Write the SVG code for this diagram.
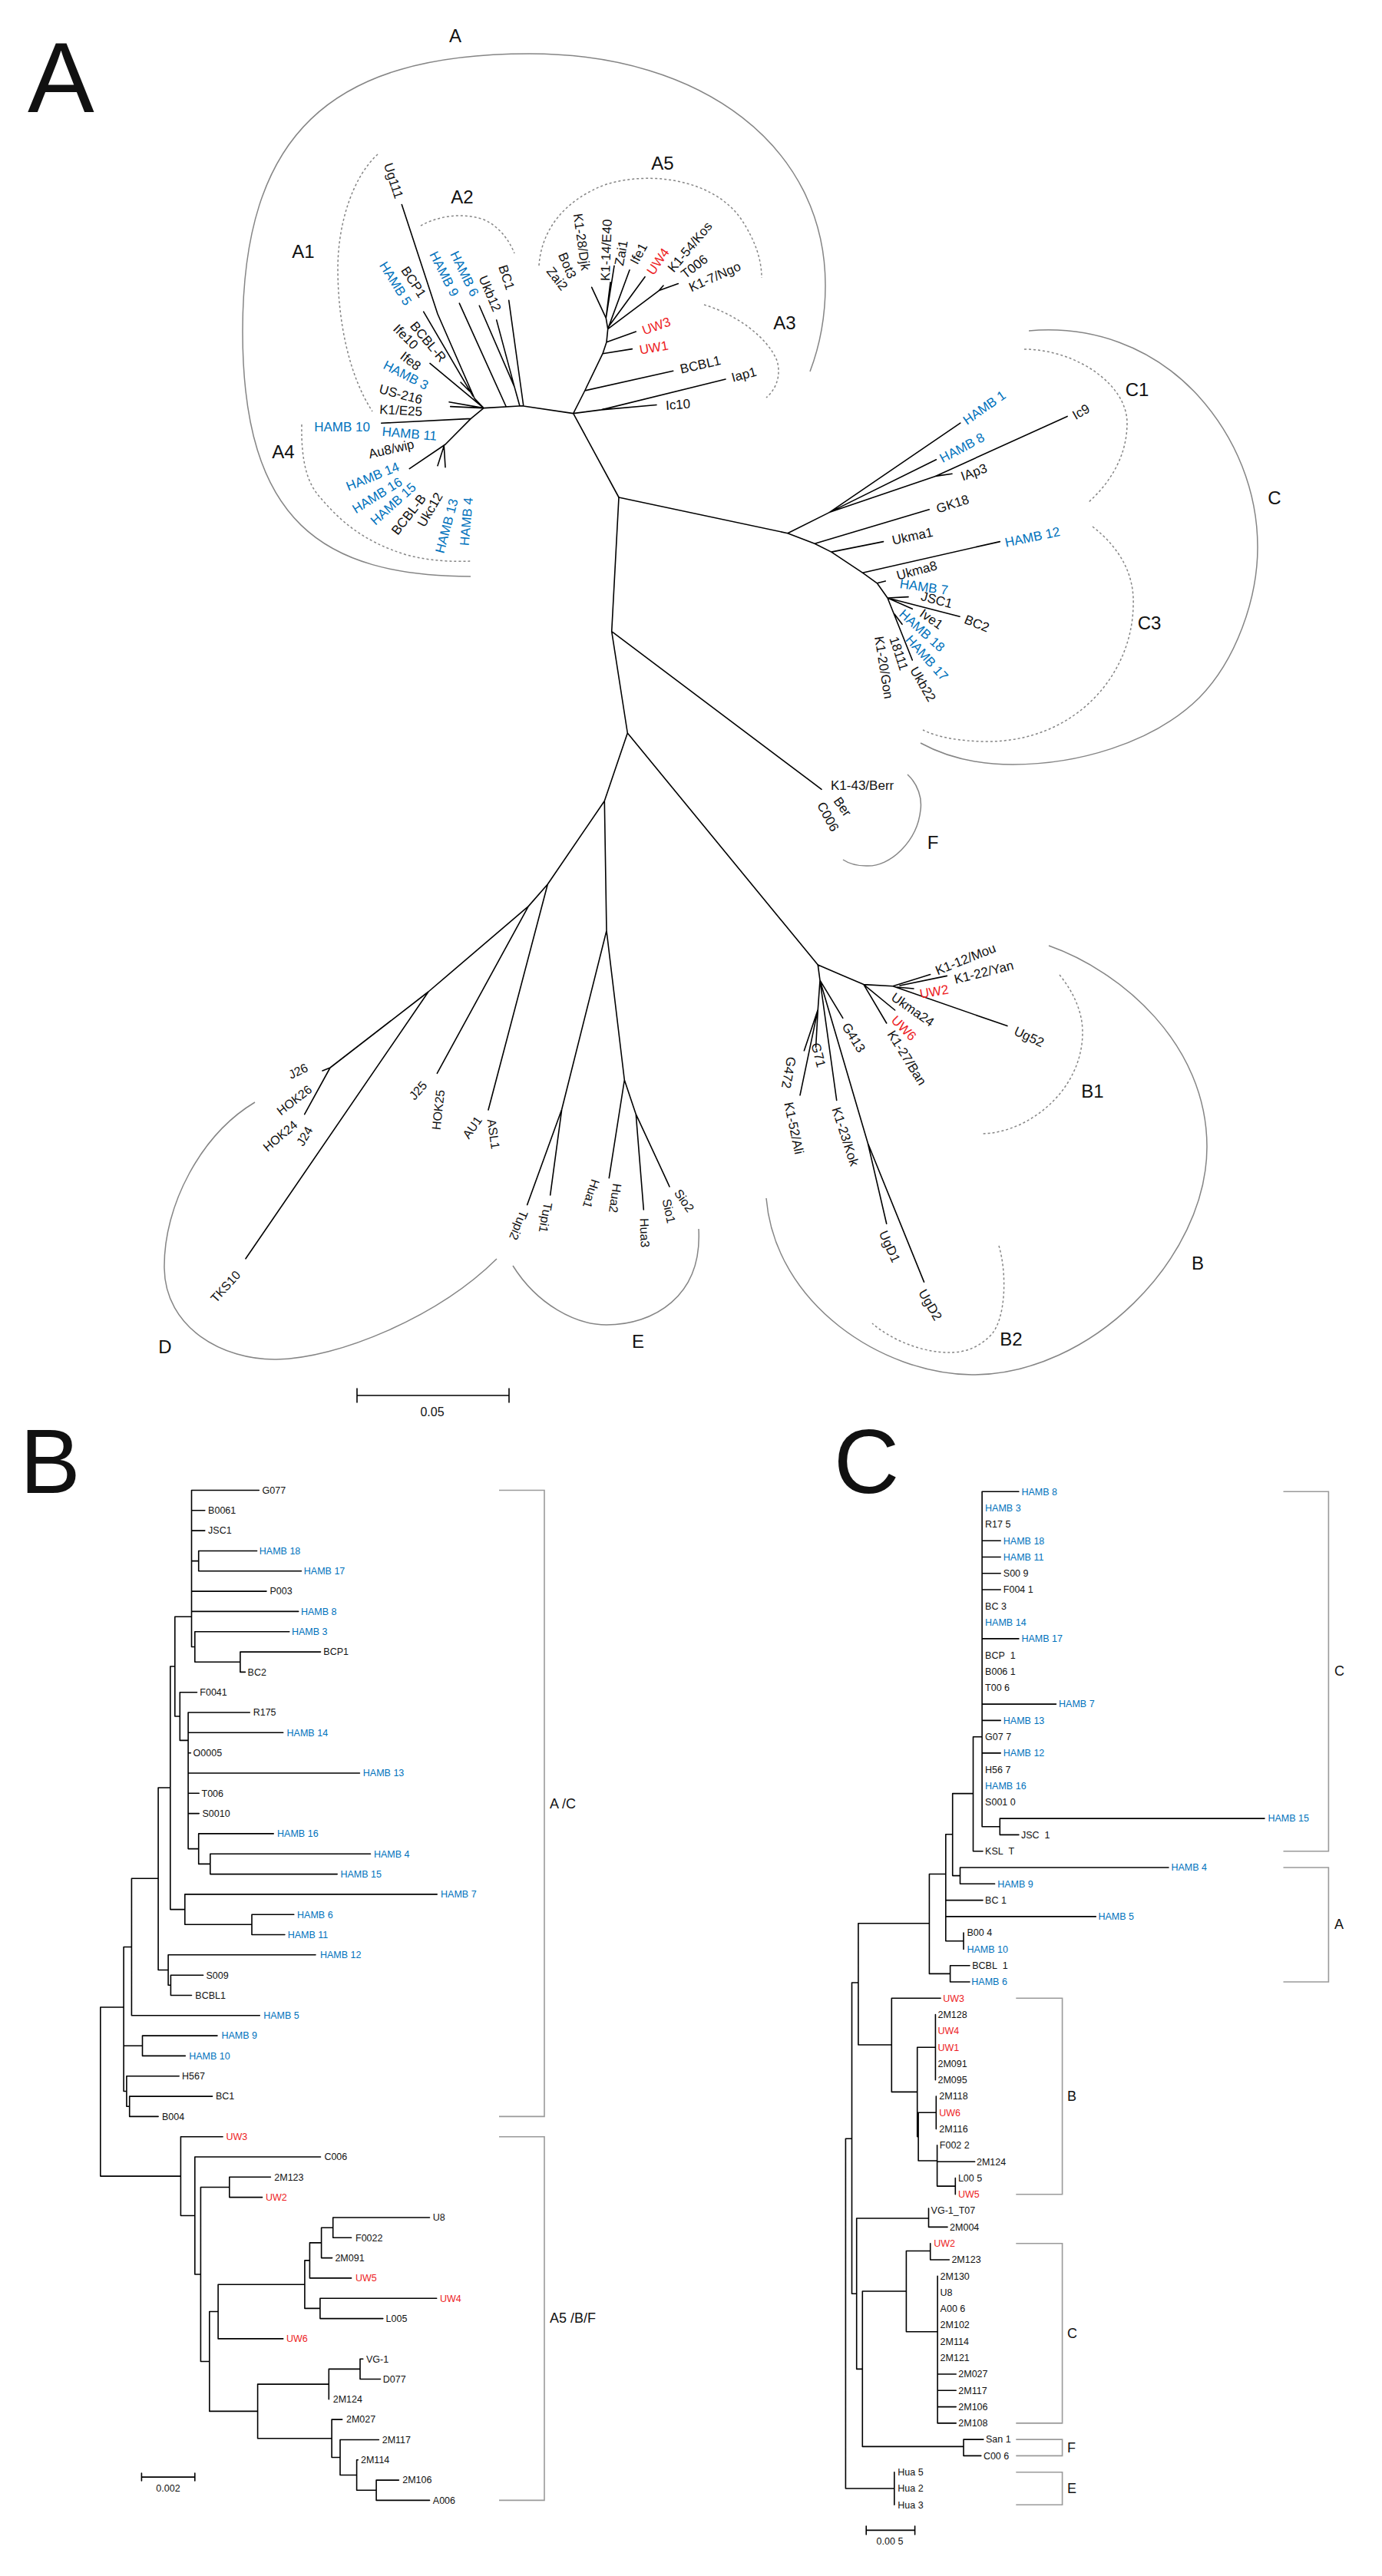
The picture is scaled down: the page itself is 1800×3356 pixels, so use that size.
<svg xmlns="http://www.w3.org/2000/svg" width="1800" height="3356" viewBox="0 0 1800 3356">
<style>
text{font-family:"Liberation Sans",Arial,sans-serif;fill:#111}
.ln{fill:none;stroke:#000;stroke-width:1.6;stroke-linejoin:round;stroke-linecap:round}
.arc{fill:none;stroke:#858585;stroke-width:1.5}
.dash{fill:none;stroke:#858585;stroke-width:1.5;stroke-dasharray:3 3}
.brk{fill:none;stroke:#9a9a9a;stroke-width:1.6}
.la{font-size:17px}
.ld{font-size:16px}
.lb{font-size:12.5px}
.cl{font-size:24px;text-anchor:middle}
.bk{font-size:18px}
.pl{font-size:130px}
.b{fill:#0072bc}
.r{fill:#ed1c24}
.e{text-anchor:end}
.m{text-anchor:middle}
</style>
<rect width="1800" height="3356" fill="#fff"/>

<!-- panel letters -->
<g id="panel-labels">
<text class="pl" x="36" y="146">A</text>
<text class="pl" x="26" y="1945" style="font-size:118px">B</text>
<text class="pl" x="1086" y="1945" style="font-size:118px">C</text>
</g>

<!-- ============ PANEL A ============ -->
<g id="clade-arcs">
<path class="arc" d="M613,751 C420,750 316,680 316,432 C316,177 428,70 690,70 C915,70 1075,191 1075,372 C1075,420 1066,455 1055,484"/>
<path class="dash" d="M492,201 C460,230 440,290 440,350 C440,420 455,490 485,536"/>
<path class="dash" d="M548,294 C570,282 600,276 630,286 C648,294 662,310 670,330"/>
<path class="dash" d="M393,553 C392,600 400,630 417,648 C440,675 470,705 530,723 C560,731 590,732 613,731"/>
<path class="dash" d="M702,346 C705,300 735,260 790,240 C850,222 930,235 965,285 C985,315 992,340 992,362"/>
<path class="dash" d="M917,397 C960,410 1000,440 1012,470 C1018,490 1010,508 998,518"/>
<path class="arc" d="M1340,431 C1420,424 1500,450 1560,515 C1610,570 1638,640 1638,713 C1638,780 1610,860 1562,909 C1500,970 1400,996 1319,996 C1270,996 1230,985 1199,968"/>
<path class="dash" d="M1334,455 C1400,455 1468,500 1468,551 C1468,595 1445,630 1417,655"/>
<path class="dash" d="M1423,686 C1460,715 1478,750 1476,790 C1474,880 1400,966 1286,966 C1250,966 1220,960 1202,951"/>
<path class="arc" d="M1182,1009 C1196,1022 1201,1040 1199,1055 C1195,1095 1160,1130 1128,1128 C1115,1128 1104,1124 1098,1120"/>
<path class="arc" d="M1366,1232 C1460,1265 1572,1360 1572,1494 C1572,1640 1420,1792 1266,1791 C1150,1790 1010,1700 998,1561"/>
<path class="dash" d="M1380,1270 C1400,1295 1410,1320 1410,1345 C1410,1420 1340,1476 1279,1477"/>
<path class="dash" d="M1301,1623 C1312,1660 1310,1720 1290,1740 C1270,1760 1250,1762 1236,1762 C1200,1762 1160,1745 1136,1724"/>
<path class="arc" d="M332,1436 C262,1478 213,1570 214,1652 C215,1730 290,1772 360,1771 C440,1770 570,1716 647,1640"/>
<path class="arc" d="M668,1649 C700,1700 750,1726 790,1726 C850,1726 915,1690 910,1601"/>
</g>

<g id="clade-labels">
<text class="cl" x="593" y="47" dy=".35em">A</text>
<text class="cl" x="395" y="328" dy=".35em">A1</text>
<text class="cl" x="602" y="257" dy=".35em">A2</text>
<text class="cl" x="1022" y="421" dy=".35em">A3</text>
<text class="cl" x="369" y="589" dy=".35em">A4</text>
<text class="cl" x="863" y="213" dy=".35em">A5</text>
<text class="cl" x="1481" y="508" dy=".35em">C1</text>
<text class="cl" x="1497" y="812" dy=".35em">C3</text>
<text class="cl" x="1660" y="649" dy=".35em">C</text>
<text class="cl" x="1560" y="1646" dy=".35em">B</text>
<text class="cl" x="1423" y="1422" dy=".35em">B1</text>
<text class="cl" x="1317" y="1745" dy=".35em">B2</text>
<text class="cl" x="215" y="1755" dy=".35em">D</text>
<text class="cl" x="831" y="1748" dy=".35em">E</text>
<text class="cl" x="1215" y="1098" dy=".35em">F</text>
</g>

<g id="connectors">
<path class="ln" d="M806,648 L746.7,538.6 M746.7,538.6 L680,528.8 L630,531.6
M630,531.6 L618,519 L570,409 L523.3,266.6 M616,516 L551.7,406.2 M611.7,509.8 L600,498
M630,531.6 L560,473.4 M630,531.6 L585,523.7 M630,531.6 L586.7,529.6
M630,531.6 L613.3,545.4 L496.7,551.3 M613.3,545.4 L580,579 L533.3,610.6 M578.3,581 L570,606.7 M578.3,581 L580,608.7
M659.3,530 L598.3,395.2 M676.7,528 L670,503.9 L624.3,398.3 M670,503.9 L646.7,416.9 M681.7,528 L662.7,391.2
M746.7,538.6 L761.7,509 L785,460.7 L790,445.7 L791.7,428.6 L789.3,414.3
M761.7,509 L876.7,483.2 M746.7,538.6 L783.3,533.9 L945,494 M783.3,533.9 L855,527.5
M785,460.7 L823.3,454.6 M790,445.7 L828.3,432
M791.7,428.6 L858.3,378.6 L883.3,369.6 M858.3,378.6 L864,372
M793,425 L840,360.7 M791.7,428.6 L820,351.8
M789.3,414.3 L800,346.4 M789.3,414.3 L795,367.9 M789.3,414.3 L770.7,374.3"/>
<path class="ln" d="M806,648 L1025.9,694.7 L1080.1,667.6 L1250.8,551.1 M1080.1,667.6 L1219.4,598.8
M1080.1,667.6 L1218.3,620.4 L1390.1,542.4 M1218.3,620.4 L1240,617.2
M1025.9,694.7 L1061.1,708.3 L1082.8,719.1 L1123.4,746.2 L1142.4,759.8 L1156,779
M1061.1,708.3 L1210.2,663.8 M1082.8,719.1 L1150.5,705.6 M1123.4,746.2 L1302.3,705.6 M1142.4,759.8 L1153.3,757
M1156,779 L1183,777.6 M1156,779 L1250,803.3 M1156,779 L1188.3,793.3 M1156,779 L1188.3,860 M1165,800 L1175,813.3"/>
<path class="ln" d="M806,648 L796.7,822.7 L1070,1028.3 M796.7,822.7 L817.3,955
M817.3,955 L787.3,1043.5 L790,1212.5 M817.3,955 L1065.3,1257.1
M787.3,1043.5 L713.3,1152 L636,1446 M713.3,1152 L688.3,1180.6 L569.3,1398.3
M688.3,1180.6 L558,1292 L430,1391 L420,1395 M430,1391 L396.7,1451.7 M558,1292 L320,1639.8
M790,1212.5 L731.7,1445.3 L686.7,1569.6 M731.7,1445.3 L716.7,1556.9
M790,1212.5 L813.3,1407 L793.3,1534.6 M813.3,1407 L828.3,1451.7 L838.3,1576 M828.3,1451.7 L868.3,1537.8 L872,1546"/>
<path class="ln" d="M1065.3,1257.1 L1124.9,1282.6 L1162.9,1284.8 L1311.9,1336.6 M1162.9,1284.8 L1211.6,1269.6 M1172,1284 L1233.3,1271.4 M1168,1286 L1190,1288
M1124.9,1282.6 L1165.6,1316 M1124.9,1282.6 L1154.7,1333
M1065.3,1257.1 L1068,1277.2 L1097.8,1326.3 M1068,1277.2 L1089.7,1433.5
M1068,1277.2 L1130.3,1489.3 L1154.7,1594.2 M1130.3,1489.3 L1203.5,1670.1
M1068,1277.2 L1065.3,1315.2 L1062.6,1364.3 M1065.3,1315.2 L1047.4,1368.8 M1065.3,1315.2 L1042,1426.8"/>
<path class="ln" d="M465,1818 H663 M465,1809 V1827 M663,1809 V1827"/>

<!-- panel B tree -->
<path class="ln" d="M249.5,1941.5 V2145.5 M249.5,1941.5 H337.3 M249.5,1967.8 H266.8 M249.5,1994.1 H266.8 M249.5,2073.1 H347 M249.5,2099.4 H388.7
M249.5,2033.6 H258.7 M258.7,2020.5 V2046.8 M258.7,2020.5 H334.6 M258.7,2046.8 H392.5
M249.5,2145.5 H253.8 M253.8,2125.7 V2165.3 M253.8,2125.7 H376.8 M253.8,2165.3 H312.9 M312.9,2152.1 V2178.4 M312.9,2152.1 H417.5 M312.9,2178.4 H319.4
M227.8,2106.2 H249.5
M245.1,2231 V2408.6 M245.1,2231 H325.3 M245.1,2257.3 H368.7 M245.1,2283.7 H248.4 M245.1,2310 H468.4 M245.1,2336.3 H259.2 M245.1,2362.6 H259.2
M245.1,2408.6 H258.7 M258.7,2388.9 V2428.4 M258.7,2388.9 H356.2 M258.7,2428.4 H273.8 M273.8,2415.2 V2441.6 M273.8,2415.2 H482.5 M273.8,2441.6 H439.2
M234.3,2267.4 H245.1 M234.3,2204.7 V2267.4 M234.3,2204.7 H256.5 M227.8,2236 H234.3
M227.8,2106.2 V2236 M221.8,2171 H227.8
M221.8,2487.6 H240.8 M240.8,2467.9 V2507.3 M240.8,2467.9 H569.2 M240.8,2507.3 H328 M328,2494.2 V2520.5 M328,2494.2 H382.8 M328,2520.5 H370.9
M221.8,2171 V2487.6 M206.1,2329 H221.8
M206.1,2566.5 H219.1 M219.1,2546.8 V2586.3 M219.1,2546.8 H411 M219.1,2586.3 H222.4 M222.4,2573.2 V2599.5 M222.4,2573.2 H264.6 M222.4,2599.5 H249.5
M206.1,2329 V2566.5 M171.4,2447.3 H206.1
M171.4,2447.3 V2625.8 M171.4,2625.8 H338.3 M161.1,2536.5 H171.4
M161.1,2665.3 H185.5 M185.5,2652.1 V2678.4 M185.5,2652.1 H283 M185.5,2678.4 H241.3
M161.1,2724.5 H164.9 M164.9,2704.7 V2744.2 M164.9,2704.7 H233.2 M164.9,2744.2 H168.7 M168.7,2731.1 V2757.4 M168.7,2731.1 H276.6 M168.7,2757.4 H206.1
M161.1,2536.5 V2724.5 M130.8,2615 H161.1
M130.8,2615 V2835.1 M130.8,2835.1 H235.4
M235.4,2783.7 V2886.5 M235.4,2783.7 H290.1 M235.4,2886.5 H253.8
M253.8,2810 V2963 M253.8,2810 H417.5 M253.8,2963 H261.4
M261.4,2849.5 V3076.5 M261.4,2849.5 H298.8 M298.8,2836.3 V2862.6 M298.8,2836.3 H352.4 M298.8,2862.6 H341.6 M261.4,3076.5 H272.8
M272.8,3011.5 V3141.4 M272.8,3011.5 H284.1 M272.8,3141.4 H335.6
M284.1,2976.2 V3046.9 M284.1,3046.9 H368.7 M284.1,2976.2 H396.9
M396.9,2944.9 V3007.4 M396.9,2944.9 H403.4 M396.9,3007.4 H416.9
M403.4,2921.9 V2967.9 M403.4,2967.9 H457.6 M403.4,2921.9 H418.6
M418.6,2902.2 V2941.6 M418.6,2941.6 H432.6 M418.6,2902.2 H433.7
M433.7,2889 V2915.3 M433.7,2889 H559.5 M433.7,2915.3 H457.6
M416.9,2994.2 V3020.6 M416.9,2994.2 H568.7 M416.9,3020.6 H498.8
M335.6,3106.1 V3176.8 M335.6,3106.1 H428.3 M335.6,3176.8 H432.1
M428.3,3086.4 V3125.8 M428.3,3086.4 H469 M469,3073.2 V3099.5 M469,3073.2 H472.8 M469,3099.5 H495.5
M432.1,3152.1 V3201.5 M432.1,3152.1 H445.7 M432.1,3201.5 H443
M443,3178.5 V3224.5 M443,3178.5 H493.4 M443,3224.5 H464.6
M464.6,3204.8 V3244.2 M464.6,3204.8 H466.3 M464.6,3244.2 H490.1
M490.1,3231.1 V3257.4 M490.1,3231.1 H519.4 M490.1,3257.4 H559.5"/>
<path class="ln" d="M184.4,3227.1 H253.8 M184.4,3222 V3232 M253.8,3222 V3232"/>

<!-- panel C tree -->
<path class="ln" d="M1279.1,1943.3 V2379.8 M1279.1,1943.3 H1326.9 M1279.1,2007.2 H1303.2 M1279.1,2028.5 H1303.2 M1279.1,2049.8 H1303.2 M1279.1,2071 H1303.2 M1279.1,2134.9 H1326.9 M1279.1,2220.1 H1375.5 M1279.1,2241.4 H1303.2 M1279.1,2283.9 H1303.2
M1279.1,2379.8 H1302.3 M1302.3,2369.1 V2390.4 M1302.3,2369.1 H1647 M1302.3,2390.4 H1326.9
M1267.5,2262.7 H1279.1 M1267.5,2262.7 V2411.7 M1267.5,2411.7 H1280
M1240.7,2336.6 H1267.5 M1240.7,2336.6 V2443.6 M1240.7,2443.6 H1250.5 M1250.5,2433 V2454.3 M1250.5,2433 H1522 M1250.5,2454.3 H1295.6
M1231.8,2389.7 H1240.7 M1231.8,2389.7 V2528.8 M1231.8,2475.6 H1280 M1231.8,2496.9 H1427.3 M1231.8,2528.8 H1255 M1255,2518.1 V2539.4
M1210.4,2441.5 H1231.8 M1210.4,2441.5 V2571.4 M1210.4,2571.4 H1237.6 M1237.6,2560.7 V2582 M1237.6,2560.7 H1263 M1237.6,2582 H1263
M1117.9,2505.8 H1210.4 M1117.9,2505.8 V2664 M1117.9,2664 H1161.3
M1161.3,2603.3 V2725.4 M1161.3,2603.3 H1225.1 M1161.3,2725.4 H1194.7
M1194.7,2667.2 V2783.6 M1194.7,2667.2 H1218.4 M1218.4,2624.6 V2709.8 M1194.7,2783.6 H1196.1
M1196.1,2752.3 V2815 M1196.1,2752.3 H1219.3 M1219.3,2731 V2773.6 M1196.1,2815 H1220.6
M1220.6,2794.9 V2848.1 M1220.6,2816.2 H1269.7 M1220.6,2848.1 H1244.3 M1244.3,2837.5 V2858.8
M1109.5,2583 H1117.9 M1109.5,2583 V2988.2 M1101.4,2786.2 H1109.5
M1109.5,2988.2 H1115.7 M1115.7,2890 V3086.4 M1115.7,2890 H1209.5 M1209.5,2877 V2901.4 M1209.5,2901.4 H1234
M1115.7,3086.4 H1123.3 M1123.3,2985 V3187.4 M1123.3,2985 H1180.4 M1180.4,2932.5 V3037.8 M1180.4,2932.5 H1211.7 M1211.7,2922.7 V2944 M1211.7,2944 H1236.3
M1180.4,3037.8 H1221.1 M1221.1,2965.2 V3156.9 M1221.1,3093 H1245.2 M1221.1,3114.3 H1245.2 M1221.1,3135.6 H1245.2 M1221.1,3156.9 H1245.2
M1123.3,3187.4 H1255 M1255,3178.1 V3199.4 M1255,3178.1 H1280.9 M1255,3199.4 H1277.8
M1101.4,2786.2 V3242 M1101.4,3242 H1164.8 M1164.8,3220.7 V3263.3"/>
<path class="ln" d="M1128.2,3296.4 H1191.6 M1128.2,3291 V3302 M1191.6,3291 V3302"/>
</g>

<g id="brackets">
<path class="brk" d="M650,1941.5 H709 V2757.4 H650 M650,2783.7 H709 V3257.4 H650"/>
<path class="brk" d="M1671.5,1943.3 H1730.4 V2411.7 H1671.5 M1671.5,2433 H1730.4 V2582 H1671.5"/>
<path class="brk" d="M1323.3,2603.3 H1383.6 V2858.8 H1323.3 M1323.3,2922.7 H1383.6 V3156.9 H1323.3 M1323.3,3178.1 H1383.6 V3199.4 H1323.3 M1323.3,3220.7 H1383.6 V3263.3 H1323.3"/>
<text class="bk" x="716" y="2350" dy=".35em">A /C</text>
<text class="bk" x="716" y="3020" dy=".35em">A5 /B/F</text>
<text class="bk" x="1738" y="2177" dy=".35em">C</text>
<text class="bk" x="1738" y="2507" dy=".35em">A</text>
<text class="bk" x="1390" y="2731" dy=".35em">B</text>
<text class="bk" x="1390" y="3040" dy=".35em">C</text>
<text class="bk" x="1390" y="3189" dy=".35em">F</text>
<text class="bk" x="1390" y="3242" dy=".35em">E</text>
</g>

<g id="scale-labels">
<text class="ld m" x="563" y="1845">0.05</text>
<text class="lb m" x="219" y="3246">0.002</text>
<text class="lb m" x="1159" y="3315">0.00 5</text>
</g>

<!-- panel A leaf labels -->
<g id="a-ug111"><text class="la e" transform="translate(520 258) rotate(72)" dy=".35em">Ug111</text></g>
<g id="a-hamb5"><text class="la e b" transform="translate(532 396) rotate(58)" dy=".35em">HAMB 5</text></g>
<g id="a-bcp1"><text class="la e" transform="translate(551 386) rotate(57)" dy=".35em">BCP1</text></g>
<g id="a-hamb9"><text class="la e b" transform="translate(593 385) rotate(63)" dy=".35em">HAMB 9</text></g>
<g id="a-hamb6"><text class="la e b" transform="translate(619 385) rotate(64)" dy=".35em">HAMB 6</text></g>
<g id="a-ukb12"><text class="la e" transform="translate(648 405) rotate(67)" dy=".35em">Ukb12</text></g>
<g id="a-bc1"><text class="la e" transform="translate(665 377) rotate(72)" dy=".35em">BC1</text></g>
<g id="a-bcblr"><text class="la e" transform="translate(578 469) rotate(50)" dy=".35em">BCBL-R</text></g>
<g id="a-ife10"><text class="la e" transform="translate(542 452) rotate(45)" dy=".35em">Ife10</text></g>
<g id="a-ife8"><text class="la e" transform="translate(546 479) rotate(38)" dy=".35em">Ife8</text></g>
<g id="a-hamb3"><text class="la e b" transform="translate(557 503) rotate(27)" dy=".35em">HAMB 3</text></g>
<g id="a-us216"><text class="la e" transform="translate(550 521) rotate(15)" dy=".35em">US-216</text></g>
<g id="a-k1e25"><text class="la e" transform="translate(550 536) rotate(3)" dy=".35em">K1/E25</text></g>
<g id="a-hamb10"><text class="la e b" transform="translate(482 556)" dy=".35em">HAMB 10</text></g>
<g id="a-hamb11"><text class="la e b" transform="translate(569 568) rotate(5)" dy=".35em">HAMB 11</text></g>
<g id="a-au8"><text class="la e" transform="translate(539 578) rotate(-13)" dy=".35em">Au8/wip</text></g>
<g id="a-hamb14"><text class="la e b" transform="translate(519 607) rotate(-22)" dy=".35em">HAMB 14</text></g>
<g id="a-hamb16"><text class="la e b" transform="translate(522 626) rotate(-32)" dy=".35em">HAMB 16</text></g>
<g id="a-hamb15"><text class="la e b" transform="translate(539 632) rotate(-42)" dy=".35em">HAMB 15</text></g>
<g id="a-bcblb"><text class="la e" transform="translate(551 646) rotate(-52)" dy=".35em">BCBL-B</text></g>
<g id="a-ukc12"><text class="la e" transform="translate(572 643) rotate(-60)" dy=".35em">Ukc12</text></g>
<g id="a-hamb13"><text class="la e b" transform="translate(591 650) rotate(-75)" dy=".35em">HAMB 13</text></g>
<g id="a-hamb4"><text class="la e b" transform="translate(610 648) rotate(-85)" dy=".35em">HAMB 4</text></g>
<g id="a-k128"><text class="la e" transform="translate(763 352) rotate(82)" dy=".35em">K1-28/Djk</text></g>
<g id="a-bot3"><text class="la e" transform="translate(746 362) rotate(67)" dy=".35em">Bot3</text></g>
<g id="a-zai2"><text class="la e" transform="translate(736 376) rotate(52)" dy=".35em">Zai2</text></g>
<g id="a-k114"><text class="la" transform="translate(788 366) rotate(-88)" dy=".35em">K1-14/E40</text></g>
<g id="a-zai1"><text class="la" transform="translate(806 346) rotate(-80)" dy=".35em">Zai1</text></g>
<g id="a-ife1"><text class="la" transform="translate(825 343) rotate(-62)" dy=".35em">Ife1</text></g>
<g id="a-uw4"><text class="la r" transform="translate(846 356) rotate(-55)" dy=".35em">UW4</text></g>
<g id="a-k154"><text class="la" transform="translate(873 352) rotate(-50)" dy=".35em">K1-54/Kos</text></g>
<g id="a-t006"><text class="la" transform="translate(889 359) rotate(-38)" dy=".35em">T006</text></g>
<g id="a-k17"><text class="la" transform="translate(898 375) rotate(-24)" dy=".35em">K1-7/Ngo</text></g>
<g id="a-uw3"><text class="la r" transform="translate(837 431) rotate(-20)" dy=".35em">UW3</text></g>
<g id="a-uw1"><text class="la r" transform="translate(833 456) rotate(-10)" dy=".35em">UW1</text></g>
<g id="a-bcbl1"><text class="la" transform="translate(886 481) rotate(-13)" dy=".35em">BCBL1</text></g>
<g id="a-iap1"><text class="la" transform="translate(953 492) rotate(-15)" dy=".35em">Iap1</text></g>
<g id="a-ic10"><text class="la" transform="translate(867 528) rotate(-4)" dy=".35em">Ic10</text></g>

<g id="c-hamb1"><text class="la b" transform="translate(1256 549) rotate(-35)" dy=".35em">HAMB 1</text></g>
<g id="c-ic9"><text class="la" transform="translate(1398 542) rotate(-30)" dy=".35em">Ic9</text></g>
<g id="c-hamb8"><text class="la b" transform="translate(1225 598) rotate(-28)" dy=".35em">HAMB 8</text></g>
<g id="c-iap3"><text class="la" transform="translate(1252 621) rotate(-20)" dy=".35em">IAp3</text></g>
<g id="c-gk18"><text class="la" transform="translate(1220 663) rotate(-18)" dy=".35em">GK18</text></g>
<g id="c-ukma1"><text class="la" transform="translate(1162 704) rotate(-12)" dy=".35em">Ukma1</text></g>
<g id="c-hamb12"><text class="la b" transform="translate(1309 707) rotate(-12)" dy=".35em">HAMB 12</text></g>
<g id="c-ukma8"><text class="la" transform="translate(1168 750) rotate(-15)" dy=".35em">Ukma8</text></g>
<g id="c-hamb7"><text class="la b" transform="translate(1172 760) rotate(8)" dy=".35em">HAMB 7</text></g>
<g id="c-jsc1"><text class="la" transform="translate(1200 776) rotate(15)" dy=".35em">JSC1</text></g>
<g id="c-bc2"><text class="la" transform="translate(1257 806) rotate(22)" dy=".35em">BC2</text></g>
<g id="c-ive1"><text class="la" transform="translate(1200 797) rotate(35)" dy=".35em">Ive1</text></g>
<g id="c-hamb18"><text class="la b" transform="translate(1174 797) rotate(42)" dy=".35em">HAMB 18</text></g>
<g id="c-hamb17"><text class="la b" transform="translate(1183 830) rotate(48)" dy=".35em">HAMB 17</text></g>
<g id="c-ukb22"><text class="la" transform="translate(1190 870) rotate(60)" dy=".35em">Ukb22</text></g>
<g id="c-18111"><text class="la" transform="translate(1164 830) rotate(72)" dy=".35em">18111</text></g>
<g id="c-k120"><text class="la" transform="translate(1145 829) rotate(81)" dy=".35em">K1-20/Gon</text></g>

<g id="f-k143"><text class="la" transform="translate(1082 1023)" dy=".35em">K1-43/Berr</text></g>
<g id="f-ber"><text class="la" transform="translate(1090 1040) rotate(55)" dy=".35em">Ber</text></g>
<g id="f-c006"><text class="la" transform="translate(1069 1046) rotate(62)" dy=".35em">C006</text></g>

<g id="d-j26"><text class="ld e" transform="translate(400 1390) rotate(-25)" dy=".35em">J26</text></g>
<g id="d-hok26"><text class="ld e" transform="translate(404 1417) rotate(-38)" dy=".35em">HOK26</text></g>
<g id="d-hok24"><text class="ld e" transform="translate(385 1463) rotate(-40)" dy=".35em">HOK24</text></g>
<g id="d-j24"><text class="ld e" transform="translate(403 1469) rotate(-60)" dy=".35em">J24</text></g>
<g id="d-tks10"><text class="ld e" transform="translate(310 1658) rotate(-48)" dy=".35em">TKS10</text></g>
<g id="d-j25"><text class="ld e" transform="translate(553 1411) rotate(-48)" dy=".35em">J25</text></g>
<g id="d-hok25"><text class="ld" transform="translate(568 1472) rotate(-84)" dy=".35em">HOK25</text></g>
<g id="d-au1"><text class="ld e" transform="translate(624 1456) rotate(-55)" dy=".35em">AU1</text></g>
<g id="d-asl1"><text class="ld" transform="translate(640 1458) rotate(82)" dy=".35em">ASL1</text></g>

<g id="e-tupi2"><text class="ld" transform="translate(683 1578) rotate(112)" dy=".35em">Tupi2</text></g>
<g id="e-tupi1"><text class="ld" transform="translate(714 1567) rotate(100)" dy=".35em">Tupi1</text></g>
<g id="e-hua1"><text class="ld" transform="translate(776 1537) rotate(108)" dy=".35em">Hua1</text></g>
<g id="e-hua2"><text class="ld" transform="translate(804 1542) rotate(98)" dy=".35em">Hua2</text></g>
<g id="e-hua3"><text class="ld" transform="translate(839 1587) rotate(88)" dy=".35em">Hua3</text></g>
<g id="e-sio1"><text class="ld" transform="translate(868 1562) rotate(78)" dy=".35em">Sio1</text></g>
<g id="e-sio2"><text class="ld" transform="translate(882 1551) rotate(55)" dy=".35em">Sio2</text></g>

<g id="b-k112"><text class="la" transform="translate(1219 1265) rotate(-22)" dy=".35em">K1-12/Mou</text></g>
<g id="b-k122"><text class="la" transform="translate(1243 1276) rotate(-14)" dy=".35em">K1-22/Yan</text></g>
<g id="b-uw2"><text class="la r" transform="translate(1198 1295) rotate(-10)" dy=".35em">UW2</text></g>
<g id="b-ukma24"><text class="la" transform="translate(1163 1297) rotate(35)" dy=".35em">Ukma24</text></g>
<g id="b-uw6"><text class="la r" transform="translate(1164 1326) rotate(45)" dy=".35em">UW6</text></g>
<g id="b-k127"><text class="la" transform="translate(1160 1344) rotate(58)" dy=".35em">K1-27/Ban</text></g>
<g id="b-ug52"><text class="la" transform="translate(1322 1342) rotate(25)" dy=".35em">Ug52</text></g>
<g id="b-g413"><text class="la" transform="translate(1101 1334) rotate(58)" dy=".35em">G413</text></g>
<g id="b-g71"><text class="la" transform="translate(1062 1359) rotate(75)" dy=".35em">G71</text></g>
<g id="b-g472"><text class="la" transform="translate(1031 1377) rotate(100)" dy=".35em">G472</text></g>
<g id="b-k152"><text class="la" transform="translate(1027 1436) rotate(78)" dy=".35em">K1-52/Ali</text></g>
<g id="b-k123"><text class="la" transform="translate(1089 1443) rotate(72)" dy=".35em">K1-23/Kok</text></g>
<g id="b-ugd1"><text class="la" transform="translate(1150 1604) rotate(66)" dy=".35em">UgD1</text></g>
<g id="b-ugd2"><text class="la" transform="translate(1201 1681) rotate(60)" dy=".35em">UgD2</text></g>

<!-- panel B leaf labels -->
<g id="pb-leaves" class="lb">
<g id="pb-g077"><text x="341.6" y="1941.5" dy=".35em">G077</text></g>
<g id="pb-b0061"><text x="271.1" y="1967.8" dy=".35em">B0061</text></g>
<g id="pb-jsc1"><text x="271.1" y="1994.1" dy=".35em">JSC1</text></g>
<g id="pb-hamb18"><text class="b" x="337.8" y="2020.5" dy=".35em">HAMB 18</text></g>
<g id="pb-hamb17"><text class="b" x="395.8" y="2046.8" dy=".35em">HAMB 17</text></g>
<g id="pb-p003"><text x="351.4" y="2073.1" dy=".35em">P003</text></g>
<g id="pb-hamb8"><text class="b" x="392" y="2099.4" dy=".35em">HAMB 8</text></g>
<g id="pb-hamb3"><text class="b" x="380" y="2125.7" dy=".35em">HAMB 3</text></g>
<g id="pb-bcp1"><text x="421.3" y="2152.1" dy=".35em">BCP1</text></g>
<g id="pb-bc2"><text x="322.6" y="2178.4" dy=".35em">BC2</text></g>
<g id="pb-f0041"><text x="260.3" y="2204.7" dy=".35em">F0041</text></g>
<g id="pb-r175"><text x="329.7" y="2231" dy=".35em">R175</text></g>
<g id="pb-hamb14"><text class="b" x="373.6" y="2257.3" dy=".35em">HAMB 14</text></g>
<g id="pb-o0005"><text x="251.6" y="2283.7" dy=".35em">O0005</text></g>
<g id="pb-hamb13"><text class="b" x="472.8" y="2310" dy=".35em">HAMB 13</text></g>
<g id="pb-t006"><text x="262.5" y="2336.3" dy=".35em">T006</text></g>
<g id="pb-s0010"><text x="263.5" y="2362.6" dy=".35em">S0010</text></g>
<g id="pb-hamb16"><text class="b" x="361.1" y="2388.9" dy=".35em">HAMB 16</text></g>
<g id="pb-hamb4"><text class="b" x="486.9" y="2415.2" dy=".35em">HAMB 4</text></g>
<g id="pb-hamb15"><text class="b" x="443.5" y="2441.6" dy=".35em">HAMB 15</text></g>
<g id="pb-hamb7"><text class="b" x="574.1" y="2467.9" dy=".35em">HAMB 7</text></g>
<g id="pb-hamb6"><text class="b" x="387.1" y="2494.2" dy=".35em">HAMB 6</text></g>
<g id="pb-hamb11"><text class="b" x="374.7" y="2520.5" dy=".35em">HAMB 11</text></g>
<g id="pb-hamb12"><text class="b" x="416.9" y="2546.8" dy=".35em">HAMB 12</text></g>
<g id="pb-s009"><text x="268.4" y="2573.2" dy=".35em">S009</text></g>
<g id="pb-bcbl1"><text x="254.3" y="2599.5" dy=".35em">BCBL1</text></g>
<g id="pb-hamb5"><text class="b" x="343.2" y="2625.8" dy=".35em">HAMB 5</text></g>
<g id="pb-hamb9"><text class="b" x="288.5" y="2652.1" dy=".35em">HAMB 9</text></g>
<g id="pb-hamb10"><text class="b" x="246.2" y="2678.4" dy=".35em">HAMB 10</text></g>
<g id="pb-h567"><text x="237" y="2704.7" dy=".35em">H567</text></g>
<g id="pb-bc1"><text x="280.9" y="2731.1" dy=".35em">BC1</text></g>
<g id="pb-b004"><text x="211" y="2757.4" dy=".35em">B004</text></g>
<g id="pb-uw3"><text class="r" x="294.4" y="2783.7" dy=".35em">UW3</text></g>
<g id="pb-c006"><text x="422.4" y="2810" dy=".35em">C006</text></g>
<g id="pb-2m123"><text x="357.3" y="2836.3" dy=".35em">2M123</text></g>
<g id="pb-uw2"><text class="r" x="345.9" y="2862.6" dy=".35em">UW2</text></g>
<g id="pb-u8"><text x="563.8" y="2889" dy=".35em">U8</text></g>
<g id="pb-f0022"><text x="463" y="2915.3" dy=".35em">F0022</text></g>
<g id="pb-2m091"><text x="436.4" y="2941.6" dy=".35em">2M091</text></g>
<g id="pb-uw5"><text class="r" x="463" y="2967.9" dy=".35em">UW5</text></g>
<g id="pb-uw4"><text class="r" x="573" y="2994.2" dy=".35em">UW4</text></g>
<g id="pb-l005"><text x="502.6" y="3020.6" dy=".35em">L005</text></g>
<g id="pb-uw6"><text class="r" x="373" y="3046.9" dy=".35em">UW6</text></g>
<g id="pb-vg1"><text x="477" y="3073.2" dy=".35em">VG-1</text></g>
<g id="pb-d077"><text x="498.8" y="3099.5" dy=".35em">D077</text></g>
<g id="pb-2m124"><text x="433.7" y="3125.8" dy=".35em">2M124</text></g>
<g id="pb-2m027"><text x="451" y="3152.1" dy=".35em">2M027</text></g>
<g id="pb-2m117"><text x="497.7" y="3178.5" dy=".35em">2M117</text></g>
<g id="pb-2m114"><text x="470" y="3204.8" dy=".35em">2M114</text></g>
<g id="pb-2m106"><text x="524.2" y="3231.1" dy=".35em">2M106</text></g>
<g id="pb-a006"><text x="563.8" y="3257.4" dy=".35em">A006</text></g>
</g>

<!-- panel C leaf labels -->
<g id="pc-leaves" class="lb">
<g id="pc-hamb8"><text class="b" x="1330.4" y="1943.3" dy=".35em">HAMB 8</text></g>
<g id="pc-hamb3"><text class="b" x="1283.1" y="1964.6" dy=".35em">HAMB 3</text></g>
<g id="pc-r175"><text x="1283.1" y="1985.9" dy=".35em">R17 5</text></g>
<g id="pc-hamb18"><text class="b" x="1306.8" y="2007.2" dy=".35em">HAMB 18</text></g>
<g id="pc-hamb11"><text class="b" x="1306.8" y="2028.5" dy=".35em">HAMB 11</text></g>
<g id="pc-s009"><text x="1306.8" y="2049.8" dy=".35em">S00 9</text></g>
<g id="pc-f0041"><text x="1306.8" y="2071" dy=".35em">F004 1</text></g>
<g id="pc-bc3"><text x="1283.1" y="2092.3" dy=".35em">BC 3</text></g>
<g id="pc-hamb14"><text class="b" x="1283.1" y="2113.6" dy=".35em">HAMB 14</text></g>
<g id="pc-hamb17"><text class="b" x="1330.4" y="2134.9" dy=".35em">HAMB 17</text></g>
<g id="pc-bcp1"><text x="1283.1" y="2156.2" dy=".35em">BCP&#160; 1</text></g>
<g id="pc-b0061"><text x="1283.1" y="2177.5" dy=".35em">B006 1</text></g>
<g id="pc-t006"><text x="1283.1" y="2198.8" dy=".35em">T00 6</text></g>
<g id="pc-hamb7"><text class="b" x="1379.1" y="2220.1" dy=".35em">HAMB 7</text></g>
<g id="pc-hamb13"><text class="b" x="1306.8" y="2241.4" dy=".35em">HAMB 13</text></g>
<g id="pc-g077"><text x="1283.1" y="2262.7" dy=".35em">G07 7</text></g>
<g id="pc-hamb12"><text class="b" x="1306.8" y="2283.9" dy=".35em">HAMB 12</text></g>
<g id="pc-h567"><text x="1283.1" y="2305.2" dy=".35em">H56 7</text></g>
<g id="pc-hamb16"><text class="b" x="1283.1" y="2326.5" dy=".35em">HAMB 16</text></g>
<g id="pc-s0010"><text x="1283.1" y="2347.8" dy=".35em">S001 0</text></g>
<g id="pc-hamb15"><text class="b" x="1651.4" y="2369.1" dy=".35em">HAMB 15</text></g>
<g id="pc-jsc1"><text x="1330" y="2390.4" dy=".35em">JSC&#160; 1</text></g>
<g id="pc-kslt"><text x="1283.1" y="2411.7" dy=".35em">KSL&#160; T</text></g>
<g id="pc-hamb4"><text class="b" x="1525.5" y="2433" dy=".35em">HAMB 4</text></g>
<g id="pc-hamb9"><text class="b" x="1299.2" y="2454.3" dy=".35em">HAMB 9</text></g>
<g id="pc-bc1"><text x="1283.1" y="2475.6" dy=".35em">BC 1</text></g>
<g id="pc-hamb5"><text class="b" x="1430.4" y="2496.9" dy=".35em">HAMB 5</text></g>
<g id="pc-b004"><text x="1259.5" y="2518.1" dy=".35em">B00 4</text></g>
<g id="pc-hamb10"><text class="b" x="1259.5" y="2539.4" dy=".35em">HAMB 10</text></g>
<g id="pc-bcbl1"><text x="1266.2" y="2560.7" dy=".35em">BCBL&#160; 1</text></g>
<g id="pc-hamb6"><text class="b" x="1265.3" y="2582" dy=".35em">HAMB 6</text></g>
<g id="pc-uw3"><text class="r" x="1228.2" y="2603.3" dy=".35em">UW3</text></g>
<g id="pc-2m128"><text x="1221.5" y="2624.6" dy=".35em">2M128</text></g>
<g id="pc-uw4"><text class="r" x="1221.5" y="2645.9" dy=".35em">UW4</text></g>
<g id="pc-uw1"><text class="r" x="1221.5" y="2667.2" dy=".35em">UW1</text></g>
<g id="pc-2m091"><text x="1221.5" y="2688.5" dy=".35em">2M091</text></g>
<g id="pc-2m095"><text x="1221.5" y="2709.8" dy=".35em">2M095</text></g>
<g id="pc-2m118"><text x="1223.3" y="2731" dy=".35em">2M118</text></g>
<g id="pc-uw6"><text class="r" x="1223.3" y="2752.3" dy=".35em">UW6</text></g>
<g id="pc-2m116"><text x="1223.3" y="2773.6" dy=".35em">2M116</text></g>
<g id="pc-f0022"><text x="1223.8" y="2794.9" dy=".35em">F002 2</text></g>
<g id="pc-2m124"><text x="1272" y="2816.2" dy=".35em">2M124</text></g>
<g id="pc-l005"><text x="1247.9" y="2837.5" dy=".35em">L00 5</text></g>
<g id="pc-uw5"><text class="r" x="1247.9" y="2858.8" dy=".35em">UW5</text></g>
<g id="pc-vg1"><text x="1212.6" y="2880.1" dy=".35em">VG-1_T07</text></g>
<g id="pc-2m004"><text x="1237.1" y="2901.4" dy=".35em">2M004</text></g>
<g id="pc-uw2"><text class="r" x="1216.2" y="2922.7" dy=".35em">UW2</text></g>
<g id="pc-2m123"><text x="1239.4" y="2944" dy=".35em">2M123</text></g>
<g id="pc-2m130"><text x="1224.6" y="2965.2" dy=".35em">2M130</text></g>
<g id="pc-u8"><text x="1224.6" y="2986.5" dy=".35em">U8</text></g>
<g id="pc-a006"><text x="1224.6" y="3007.8" dy=".35em">A00 6</text></g>
<g id="pc-2m102"><text x="1224.6" y="3029.1" dy=".35em">2M102</text></g>
<g id="pc-2m114"><text x="1224.6" y="3050.4" dy=".35em">2M114</text></g>
<g id="pc-2m121"><text x="1224.6" y="3071.7" dy=".35em">2M121</text></g>
<g id="pc-2m027"><text x="1248.3" y="3093" dy=".35em">2M027</text></g>
<g id="pc-2m117"><text x="1248.3" y="3114.3" dy=".35em">2M117</text></g>
<g id="pc-2m106"><text x="1248.3" y="3135.6" dy=".35em">2M106</text></g>
<g id="pc-2m108"><text x="1248.3" y="3156.9" dy=".35em">2M108</text></g>
<g id="pc-san1"><text x="1284" y="3178.1" dy=".35em">San 1</text></g>
<g id="pc-c006"><text x="1280.9" y="3199.4" dy=".35em">C00 6</text></g>
<g id="pc-hua5"><text x="1169.3" y="3220.7" dy=".35em">Hua 5</text></g>
<g id="pc-hua2"><text x="1169.3" y="3242" dy=".35em">Hua 2</text></g>
<g id="pc-hua3"><text x="1169.3" y="3263.3" dy=".35em">Hua 3</text></g>
</g>
</svg>
